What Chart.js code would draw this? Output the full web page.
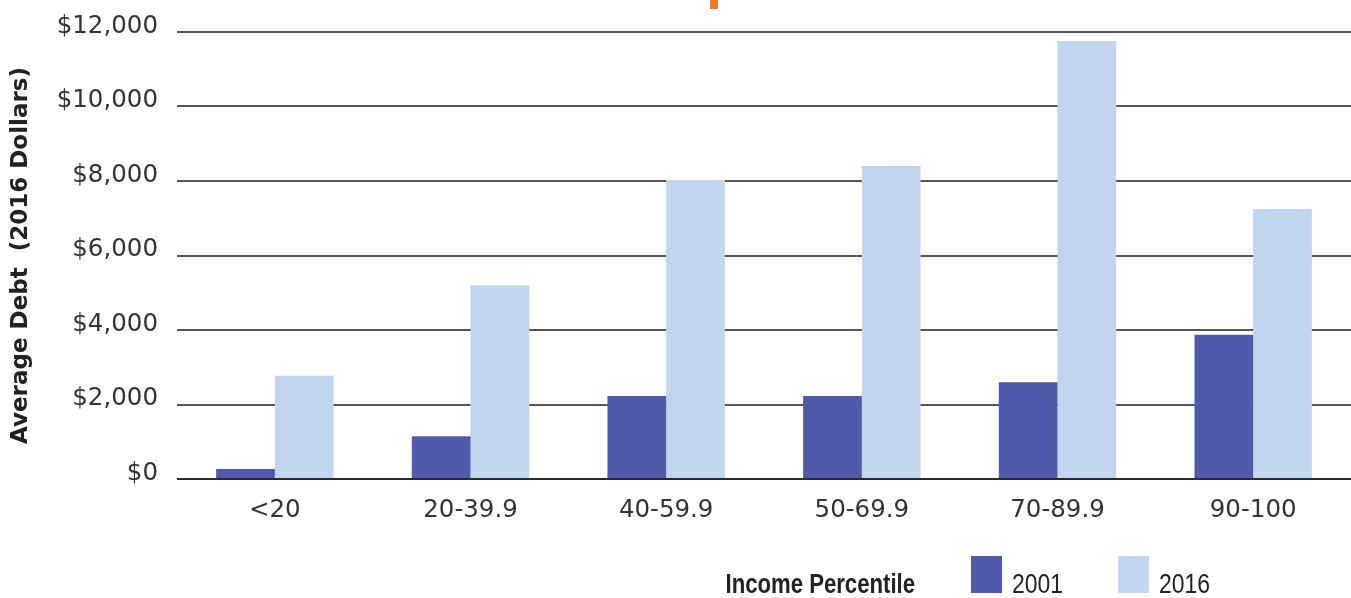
<!DOCTYPE html>
<html>
<head>
<meta charset="utf-8">
<script src="https://cdn.jsdelivr.net/npm/chart.js@4/dist/chart.umd.min.js"></script>
<style>
  html, body { margin: 0; padding: 0; background: #ffffff; }
  #wrap { position: relative; width: 1351px; height: 598px; }
</style>
</head>
<body>
<div id="wrap"><canvas id="c"></canvas></div>
<script>
// ---- data ----
const categories = ['<20', '20-39.9', '40-59.9', '50-69.9', '70-89.9', '90-100'];
const seriesNames = ['2001', '2016'];
const debt2001 = [270, 1150, 2230, 2230, 2600, 3870];
const debt2016 = [2770, 5200, 8030, 8400, 11760, 7250];
const yTicks = [0, 2000, 4000, 6000, 8000, 10000, 12000];
const yAxisTitle = 'Average Debt  (2016 Dollars)';
const xAxisTitle = 'Income Percentile';

// ---- style ----
const MAIN_FONT = "'DejaVu Sans', sans-serif";
const LEG_FONT = "'Liberation Sans', Arial, sans-serif";
const TEXT = '#333333';
const COLORS = ['#505AA8', '#C2D5EE'];
const LEG_BOX_W = 31, LEG_BOX_H = 37, LEG_PAD = 42.5;
const LEG_START_INSET = 380;   // distance of first legend box from right edge
const LEG_BOX_TOP = 556;

const legendCustom = {
  id: 'legendCustom',
  afterLayout(chart) {
    const lg = chart.legend;
    if (!lg) return;
    lg.top = LEG_BOX_TOP - LEG_PAD;
    lg.bottom = chart.height;
    lg.right = chart.width - LEG_START_INSET + lg.lineWidths[0];
  },
  afterDraw(chart) {
    const lg = chart.legend;
    const ctx = chart.ctx;
    const startX = lg.right - lg.lineWidths[0];
    const baseY = LEG_BOX_TOP + LEG_BOX_H;
    ctx.save();
    ctx.fillStyle = '#222222';
    ctx.textBaseline = 'alphabetic';
    // caption (condensed)
    ctx.save();
    ctx.font = "bold 27px " + LEG_FONT;
    ctx.textAlign = 'right';
    ctx.translate(startX - 56, baseY);
    ctx.scale(0.82, 1);
    ctx.fillText(xAxisTitle, 0, 0);
    ctx.restore();
    // item labels (condensed)
    let x = startX;
    lg.legendItems.forEach((item, i) => {
      ctx.save();
      ctx.font = "27px " + LEG_FONT;
      ctx.textAlign = 'left';
      ctx.translate(x + LEG_BOX_W + 10, baseY);
      ctx.scale(0.85, 1);
      ctx.fillText(item.text, 0, 0);
      ctx.restore();
      x += lg.legendHitBoxes[i].width + LEG_PAD;
    });
    // cropped orange fragment at top
    ctx.fillStyle = '#F07B2A';
    ctx.fillRect(710, 0, 8, 9);
    ctx.restore();
  }
};

function build() {
  new Chart(document.getElementById('c'), {
    type: 'bar',
    data: {
      labels: categories,
      datasets: [
        { label: seriesNames[0], data: debt2001, backgroundColor: COLORS[0], borderWidth: 0 },
        { label: seriesNames[1], data: debt2016, backgroundColor: COLORS[1], borderWidth: 0 }
      ]
    },
    options: {
      responsive: true,
      maintainAspectRatio: false,
      animation: false,
      layout: { padding: { top: 32, left: 0, right: 0, bottom: 0 } },
      datasets: { bar: { categoryPercentage: 0.6, barPercentage: 1.0 } },
      scales: {
        x: {
          grid: { display: false, drawTicks: false },
          border: { display: false },
          ticks: { color: TEXT, font: { family: MAIN_FONT, size: 24.5 }, padding: 17, maxRotation: 0 },
          afterFit(scale) { scale.height = 44; scale.paddingLeft = 0; scale.paddingRight = 0; }
        },
        y: {
          min: 0, max: 12000,
          afterBuildTicks(scale) { scale.ticks = yTicks.map(v => ({ value: v })); },
          grid: {
            drawTicks: false,
            lineWidth: 2,
            color: ctx => (ctx.tick && ctx.tick.value === 0) ? '#2a2a2a' : '#555555'
          },
          border: { display: false },
          ticks: {
            color: TEXT,
            font: { family: MAIN_FONT, size: 24.5, lineHeight: '11px' },
            padding: 19,
            callback: v => ['$' + Number(v).toLocaleString('en-US'), '']
          },
          title: {
            display: true,
            text: yAxisTitle,
            color: '#222222',
            font: { family: MAIN_FONT, size: 23, weight: 'bold' },
            padding: { top: 7, bottom: 0 }
          },
          afterFit(scale) { scale.width = 177; scale.paddingTop = 0; scale.paddingBottom = 0; }
        }
      },
      plugins: {
        legend: {
          position: 'bottom',
          align: 'end',
          maxHeight: 75,
          labels: {
            boxWidth: LEG_BOX_W,
            boxHeight: LEG_BOX_H,
            padding: LEG_PAD,
            color: 'rgba(0,0,0,0)',
            font: { family: LEG_FONT, size: 27 }
          }
        },
        tooltip: { enabled: false }
      }
    },
    plugins: [legendCustom]
  });
}

const fontLoads = [
  document.fonts.load("24.5px 'DejaVu Sans'"),
  document.fonts.load("bold 23px 'DejaVu Sans'"),
  document.fonts.load("27px 'Liberation Sans'"),
  document.fonts.load("bold 27px 'Liberation Sans'")
];
Promise.all(fontLoads).then(build, build);
</script>
</body>
</html>
